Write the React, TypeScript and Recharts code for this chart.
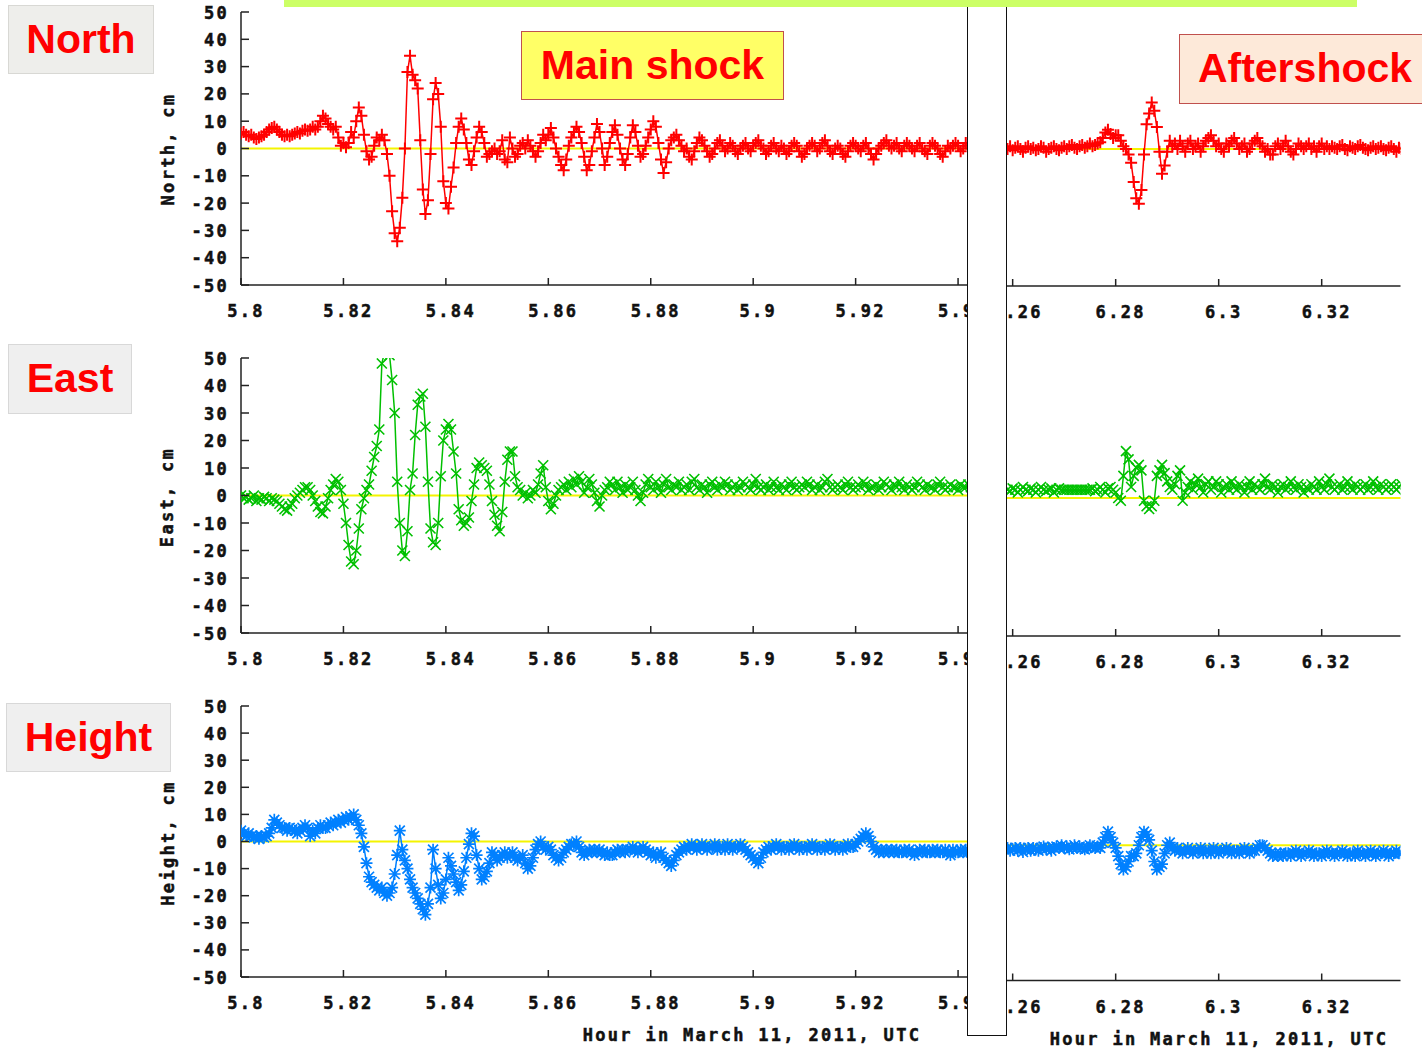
import React from "react";
import { LineChart, Line, XAxis, YAxis, ReferenceLine } from "recharts";

// sampling: one value every 0.0005 h
const STEP = 0.0005;
const MAIN_START = 5.8;
const AFTER_START = 6.259;

const MAIN_DOMAIN: [number, number] = [5.8, 5.9435];
const AFTER_DOMAIN: [number, number] = [6.2589, 6.3353];
const MAIN_TICKS = [5.8, 5.82, 5.84, 5.86, 5.88, 5.9, 5.92, 5.94];
const AFTER_TICKS = [6.26, 6.28, 6.3, 6.32];
const Y_TICKS = [-50, -40, -30, -20, -10, 0, 10, 20, 30, 40, 50];

// North, cm
const northMain = [
  5.5, 6, 5, 4.5, 5, 4, 3.5, 4, 4.5, 5, 6, 7, 7.5, 8, 7, 6, 5, 4.5, 5, 4.5,
  5, 5.5, 6, 5.5, 6.5, 7, 6.5, 7, 8, 7, 8, 10, 12, 11, 9, 8, 7, 8, 4, 1,
  2, 0.5, 2, 6, 4, 10, 15, 12, 5, -1, -4, -3, 1, 4, 3, 5, 3, -2, -10, -23,
  -31, -34, -29, -18, 0, 28, 34, 27, 25, 22, 3, -15, -24, -19, -2, 18, 24, 20, 8, -12,
  -20, -22, -14, -7, 2, 8, 11, 7, 2, -4, -6, -1, 4, 8, 6, 2, -3, -2, -1, 0,
  -2, -1, 3, -4, -5, 4, 0, -3, -2, 1, 2, 0, 3, 1, -1, -3, -1, 2, 5, 3,
  5, 7.5, 4, 0, -3, -6, -8, -4, 1, 4, 6, 8, 6, 2, -3, -8, -6, -1, 4, 9,
  6, 0, -6, -3, 2, 6, 8.5, 5, 0, -4, -6, -2, 4, 8.5, 6, 1, -3, -2, 1, 4,
  7, 10, 8, 2, -4, -9, -5, 0, 3, 4, 5, 3, 1, -1, 0, -3, -4, -1, 2, 4,
  3, 1, -1, -3, -2, 0, 2, 3, 1, -1, 0, 2, 1, -1, -2, 0, 1, 2, 0, -1,
  1, 2, 3, 1, 0, -2, -1, 1, 2, 0, -1, 1, 0, -2, -1, 1, 2, 1, -1, -3,
  -2, 0, 1, 2, 1, -1, 0, 2, 3, 1, -1, -2, 0, 1, 0, -2, -3, -1, 1, 2,
  1, 0, -1, 1, 2, 0, -2, -4, -2, 0, 1, 2, 3, 1, 0, 1, 2, 0, -1, 1,
  2, 1, 0, -1, 1, 2, 0, -1, -2, 1, 2, 1, 0, -2, -3, -1, 1, 0, 1, 2,
  1, -1, 0, 2, 1, 0, 1,
];
const northAfter = [
  0, 1, -0.5, 0.5, 1, 0, -1, 0.5, 1, 0, 0.5, -0.5, 0, 1, 0.5, -1, 0, 0.5, 1, 0,
  -0.5, 0.5, 1, 0, 1, 1.5, 0.5, 0, 1, 1.5, 0.5, 1, 2, 1, 1.5, 2, 2.5, 4, 6, 7,
  5.5, 4, 5, 5, 3, 1, 0, -2, -5, -12, -18, -20, -15, -2, 9, 13, 17, 14, 8, -1,
  -9, -6, -1, 3, 1, 2, 0, 3, 1, -1, 2, 3, 0, 1, 2, -1, 1, 3, 4, 5,
  3, 1, 2, 0, -1, 2, 1, 3, 4, 2, 0, 1, 2, -1, 0, 2, 3, 4, 2, 1,
  -1, 0, -2, -2, 1, 2, 0, 1, 3, 1, -1, -2, 0, 2, 1, 0, 1, 2, 0, 1,
  -1, 1, 2, 0, 1, 0, 1, 0.5, 0, 1, 1.5, 0, -0.5, 1, 0.5, 0, 1, 1.5, 0.5, 0,
  -0.5, 0.5, 1, 0, 0.5, 1, 0, -0.5, 0.5, 1, 0, -1, 0.5, 0,
];

// East, cm
const eastMain = [
  0, -1, -0.5, -1.5, -1, 0, -2, -1, -1.5, -0.5, -1, -2, -1, -1.5, -2, -3, -4, -5, -5.5, -4,
  -3, -1, 0, 1, 2, 3, 3, 2, 0, -2, -4, -6, -6.5, -4, -1, 2, 4, 6, 5, 2,
  -3, -10, -18, -24, -25, -20, -12, -5, -1, 2, 4, 9, 14, 18, 24, 48, 52, 53, 51, 42,
  30, 5, -10, -20, -22, -13, 2, 8, 22, 33, 36, 37, 25, 5, -12, -17, -18, -10, 7, 20,
  24, 26, 24, 16, 8, -5, -9, -11, -10, -8, -2, 4, 10, 12, 11, 10, 9, 4, -2, -7,
  -11, -13, -6, 5, 13, 16, 16, 7, 3, 2, 0, 1, -1, 0, 2, 1, 4, 8, 11, 3,
  -2, -5, -3, 0, 2, 3, 4, 2, 5, 3, 6, 4, 7, 5, 1, 3, 6, 4, 1, -2,
  -4, 0, 2, 3, 5, 4, 2, 5, 3, 1, 4, 2, 3, 5, 2, 0, -2, 1, 4, 6,
  3, 2, 5, 3, 1, 4, 6, 3, 2, 4, 3, 5, 2, 3, 4, 2, 5, 6, 3, 2,
  4, 3, 1, 4, 5, 3, 2, 4, 3, 5, 4, 2, 3, 4, 2, 3, 5, 4, 3, 2,
  4, 6, 3, 2, 3, 4, 2, 3, 5, 3, 2, 4, 3, 2, 4, 5, 3, 2, 3, 4,
  3, 5, 4, 2, 3, 4, 2, 3, 5, 6, 3, 2, 3, 4, 3, 2, 4, 5, 3, 2,
  3, 4, 3, 5, 4, 2, 3, 3, 4, 2, 3, 5, 4, 3, 2, 4, 3, 5, 3, 2,
  4, 3, 2, 3, 5, 4, 3, 2, 4, 3, 3, 2, 4, 5, 3, 2, 3, 4, 3, 3,
  2, 4, 3, 3, 4, 3, 3,
];
const eastAfter = [
  3, 2.5, 3.5, 3, 2, 3, 4, 3, 2.5, 3.5, 3, 2, 3, 4, 3, 2.5, 3, 3.5, 2, 3,
  3.5, 3, 3, 3, 3, 3, 3, 3, 3, 3, 3, 3, 3, 3.5, 2.5, 3, 4, 3, 2, 3.5,
  4, 3, 2, 0, -1, 8, 17, 14, 4, 8, 11, 12, 10, -1, -3, -4, -3, -1, 8, 10,
  12, 9, 6, 4, 3, 5, 8, 10, -1, 2, 4, 6, 3, 5, 7, 4, 2, 5, 6, 3,
  4, 6, 5, 2, 4, 5, 3, 6, 4, 3, 5, 4, 2, 4, 6, 3, 5, 4, 3, 5,
  7, 4, 3, 5, 4, 2, 4, 5, 3, 4, 6, 4, 3, 5, 4, 2, 4, 3, 5, 4,
  3, 6, 4, 3, 5, 7, 4, 3, 4, 5, 3, 4, 6, 4, 3, 5, 4, 3, 4, 5,
  3, 4, 6, 4, 3, 5, 4, 3, 4, 5, 4, 3, 4, 5,
];

// Height, cm
const heightMain = [
  4, 3, 2, 3, 2, 1.5, 2, 1, 2, 1.5, 2, 3, 5, 8, 7, 6, 5, 5, 4, 5,
  4.5, 4, 3, 4, 5, 6, 5, 2, 4, 3, 5, 6, 5, 5, 6, 7, 6, 7, 8, 7,
  8, 9, 8, 9, 10, 8, 6, 3, -2, -8, -13, -15, -16, -17, -18, -17, -19, -20, -19, -17,
  -12, -5, 4, -3, -7, -10, -14, -17, -19, -21, -23, -25, -27, -23, -17, -3, -10, -16, -21, -19,
  -14, -6, -9, -12, -15, -18, -16, -11, -6, -1, 3, 2, -5, -10, -14, -13, -11, -8, -4, -5,
  -7, -6, -5, -4, -6, -5, -4, -6, -7, -6, -5, -8, -10, -9, -6, -3, -1, 0, -2, -3,
  -2, -3, -5, -6, -7, -6, -4, -3, -2, -1, -1, 0, -2, -4, -5, -4, -3, -4, -3, -4,
  -3, -4, -5, -4, -5, -5, -4, -3, -4, -3, -4, -3, -3, -2, -3, -4, -3, -2, -3, -4,
  -5, -4, -6, -5, -4, -6, -7, -8, -9, -7, -5, -4, -3, -2, -3, -2, -1, -2, -3, -2,
  -1, -2, -3, -2, -2, -1, -3, -2, -2, -3, -1, -2, -3, -2, -2, -1, -2, -3, -4, -5,
  -6, -7, -8, -6, -4, -3, -2, -3, -2, -1, -2, -3, -2, -2, -3, -2, -1, -2, -3, -2,
  -2, -3, -2, -1, -2, -3, -2, -2, -3, -2, -1, -2, -3, -2, -2, -3, -2, -1, -2, -2,
  -1, 0, 1, 2, 3, 2, 0, -2, -3, -4, -3, -4, -3, -4, -3, -4, -3, -4, -4, -3,
  -4, -3, -4, -5, -4, -3, -4, -3, -4, -4, -3, -4, -3, -4, -4, -3, -4, -5, -3, -4,
  -4, -3, -4, -3, -4, -4, -3,
];
const heightAfter = [
  -1, -2, -1.5, -1, -2, -1, -2.5, -1.5, -1, -2, -1, -1.5, -2, -1, -0.5, -1.5, -1, -2, -1, -0.5,
  -1, 0, -1, -0.5, -1.5, -1, 0, -1, -0.5, -1, -1.5, -1, 0, -0.5, -1, -0.5, -1, 1, 3, 5,
  3, 1, -1, -4, -7, -9, -8, -6, -4, -4, -3, 0, 3, 5, 4, 2, -2, -6, -9, -8,
  -7, -3, 0, 1, -1, -2, -1, -2, -3, -2, -1, -2, -3, -2, -2, -1, -3, -2, -2, -3,
  -1, -2, -3, -2, -2, -1, -2, -3, -2, -2, -3, -2, -1, -2, -3, -2, -2, -1, 0, 0,
  -1, -2, -3, -4, -3, -4, -3, -4, -3, -3, -4, -3, -2, -3, -4, -3, -3, -2, -3, -4,
  -3, -3, -4, -3, -2, -3, -3, -4, -3, -3, -2, -3, -4, -3, -3, -4, -2, -3, -3, -4,
  -3, -2, -3, -4, -3, -3, -2, -3, -4, -3, -3, -2, -3, -3,
];

const AXIS = "#222";
const ZERO = "#f4f400";
const MONO: React.CSSProperties = {
  fontFamily: "'DejaVu Sans Mono', monospace",
  fontWeight: "bold",
  fontSize: 17,
  letterSpacing: 2.3,
  fill: "#111",
  stroke: "#111",
  strokeWidth: 0.5,
};

const toRows = (start: number, values: number[]) =>
  values.map((v, i) => ({ t: Number((start + i * STEP).toFixed(5)), v }));

type Shape = "plus" | "cross" | "star";

function markerPath(shape: Shape, x: number, y: number) {
  const a = 6;
  const b = 5;
  const plus = `M${x - a},${y}H${x + a}M${x},${y - a}V${y + a}`;
  const cross = `M${x - b},${y - b}L${x + b},${y + b}M${x - b},${y + b}L${x + b},${y - b}`;
  if (shape === "plus") return plus;
  if (shape === "cross") return cross;
  return plus + cross;
}

const MARK_W: Record<Shape, number> = { plus: 2, cross: 1.6, star: 1.7 };

const makeDot = (shape: Shape, color: string) => (p: any) => {
  if (p.cx == null || p.cy == null) return <g key={`m${p.index}`} />;
  return (
    <path
      key={`m${p.index}`}
      d={markerPath(shape, p.cx, p.cy)}
      stroke={color}
      strokeWidth={MARK_W[shape]}
      fill="none"
    />
  );
};

const bottomTick = (p: any) => (
  <g>
    <line x1={p.x} x2={p.x} y1={p.y} y2={p.y - 7} stroke={AXIS} strokeWidth={1.5} />
    <text x={p.x + 5} y={p.y + 32} textAnchor="middle" style={MONO}>
      {String(p.payload.value)}
    </text>
  </g>
);

const topTick = (p: any) => (
  <line x1={p.x} x2={p.x} y1={p.y} y2={p.y + 7} stroke={AXIS} strokeWidth={1.5} />
);

const leftTick = (p: any) => (
  <g>
    <line x1={p.x} x2={p.x + 8} y1={p.y} y2={p.y} stroke={AXIS} strokeWidth={1.5} />
    <text x={p.x - 12} y={p.y + 6.5} textAnchor="end" style={MONO}>
      {String(p.payload.value)}
    </text>
  </g>
);

const PADL = 100;
const PADT = 10;
const PADR = 20;
const PADB = 45;

type PanelProps = {
  values: number[];
  start: number;
  color: string;
  shape: Shape;
  left: number;
  top: number;
  width: number;
  height: number;
  domain: [number, number];
  ticks: number[];
  showY: boolean;
};

function Panel({ values, start, color, shape, left, top, width, height, domain, ticks, showY }: PanelProps) {
  const data = toRows(start, values);
  return (
    <div style={{ position: "absolute", left: left - PADL, top: top - PADT }}>
      <LineChart
        width={width + PADL + PADR}
        height={height + PADT + PADB}
        data={data}
        margin={{ top: PADT, right: PADR, bottom: 0, left: showY ? PADL - 80 : PADL }}
      >
        <XAxis
          xAxisId="b"
          dataKey="t"
          type="number"
          domain={domain}
          ticks={ticks}
          interval={0}
          allowDataOverflow
          height={PADB}
          tickSize={0}
          tickMargin={0}
          tickLine={false}
          axisLine={{ stroke: AXIS, strokeWidth: 1.5 }}
          tick={bottomTick}
        />
        <XAxis
          xAxisId="top"
          orientation="top"
          dataKey="t"
          type="number"
          domain={domain}
          ticks={ticks}
          interval={0}
          allowDataOverflow
          height={0}
          tickSize={0}
          tickMargin={0}
          tickLine={false}
          axisLine={{ stroke: AXIS, strokeWidth: 1.5 }}
          tick={topTick}
        />
        <YAxis
          type="number"
          domain={[-50, 50]}
          ticks={Y_TICKS}
          interval={0}
          allowDataOverflow
          width={80}
          hide={!showY}
          tickSize={0}
          tickMargin={0}
          tickLine={false}
          axisLine={{ stroke: AXIS, strokeWidth: 1.5 }}
          tick={leftTick}
        />
        <ReferenceLine xAxisId="b" y={0} stroke={ZERO} strokeWidth={2} />
        <Line
          xAxisId="b"
          dataKey="v"
          stroke={color}
          strokeWidth={1.5}
          dot={makeDot(shape, color)}
          activeDot={false}
          isAnimationActive={false}
        />
      </LineChart>
    </div>
  );
}

const MAIN_LEFT = 240.5;
const MAIN_WIDTH = 735;
const AFTER_LEFT = 1006.5;
const AFTER_WIDTH = 393.5;

function LabelBox(props: {
  text: string;
  left: number;
  top: number;
  width: number;
  height: number;
  bg: string;
  border: string;
}) {
  return (
    <div
      style={{
        position: "absolute",
        left: props.left,
        top: props.top,
        width: props.width,
        height: props.height,
        boxSizing: "border-box",
        background: props.bg,
        border: `1.5px solid ${props.border}`,
        color: "#ff0000",
        fontFamily: "'Liberation Sans', Arial, sans-serif",
        fontWeight: "bold",
        fontSize: 41,
        lineHeight: `${props.height - 3}px`,
        textAlign: "center",
        whiteSpace: "nowrap",
      }}
    >
      {props.text}
    </div>
  );
}

export default function App() {
  return (
    <div
      style={{
        position: "absolute",
        left: 0,
        top: 0,
        width: 1422,
        height: 1052,
        overflow: "hidden",
        background: "#fff",
      }}
    >
      <Panel values={northMain} start={MAIN_START} color="#ff0000" shape="plus"
        left={MAIN_LEFT} top={12} width={MAIN_WIDTH} height={273}
        domain={MAIN_DOMAIN} ticks={MAIN_TICKS} showY />
      <Panel values={eastMain} start={MAIN_START} color="#00c000" shape="cross"
        left={MAIN_LEFT} top={358} width={MAIN_WIDTH} height={275}
        domain={MAIN_DOMAIN} ticks={MAIN_TICKS} showY />
      <Panel values={heightMain} start={MAIN_START} color="#0080ff" shape="star"
        left={MAIN_LEFT} top={706} width={MAIN_WIDTH} height={271}
        domain={MAIN_DOMAIN} ticks={MAIN_TICKS} showY />

      <Panel values={northAfter} start={AFTER_START} color="#ff0000" shape="plus"
        left={AFTER_LEFT} top={12} width={AFTER_WIDTH} height={274}
        domain={AFTER_DOMAIN} ticks={AFTER_TICKS} showY={false} />
      <Panel values={eastAfter} start={AFTER_START} color="#00c000" shape="cross"
        left={AFTER_LEFT} top={360} width={AFTER_WIDTH} height={276}
        domain={AFTER_DOMAIN} ticks={AFTER_TICKS} showY={false} />
      <Panel values={heightAfter} start={AFTER_START} color="#0080ff" shape="star"
        left={AFTER_LEFT} top={709.5} width={AFTER_WIDTH} height={270.5}
        domain={AFTER_DOMAIN} ticks={AFTER_TICKS} showY={false} />

      <svg width={1422} height={1052} style={{ position: "absolute", left: 0, top: 0 }}>
        <text x={174} y={149} transform="rotate(-90 174 149)" textAnchor="middle" style={MONO}>North, cm</text>
        <text x={173} y={497} transform="rotate(-90 173 497)" textAnchor="middle" style={MONO}>East, cm</text>
        <text x={174} y={843} transform="rotate(-90 174 843)" textAnchor="middle" style={MONO}>Height, cm</text>
        <text x={752} y={1041} textAnchor="middle" style={MONO}>Hour in March 11, 2011, UTC</text>
        <text x={1219} y={1045} textAnchor="middle" style={MONO}>Hour in March 11, 2011, UTC</text>
      </svg>

      {/* white separator strip between the two time windows */}
      <div
        style={{
          position: "absolute",
          left: 967,
          top: 0,
          width: 40,
          height: 1036,
          boxSizing: "border-box",
          background: "#fff",
          borderLeft: "1.5px solid #111",
          borderRight: "1.5px solid #111",
          borderBottom: "1.5px solid #111",
        }}
      />
      <div style={{ position: "absolute", left: 284, top: 0, width: 1073, height: 7, background: "#ccff66" }} />

      <LabelBox text="North" left={8} top={5} width={146} height={69} bg="#eeeeeb" border="#d8d8d4" />
      <LabelBox text="East" left={8} top={344} width={124} height={70} bg="#efefef" border="#d8d8d8" />
      <LabelBox text="Height" left={6} top={703} width={165} height={69} bg="#efefef" border="#d8d8d8" />
      <LabelBox text="Main shock" left={521} top={31} width={263} height={69} bg="#ffff66" border="#c0504d" />
      <LabelBox text="Aftershock" left={1179} top={34} width={252} height={70} bg="#fde9d9" border="#c0504d" />
    </div>
  );
}
